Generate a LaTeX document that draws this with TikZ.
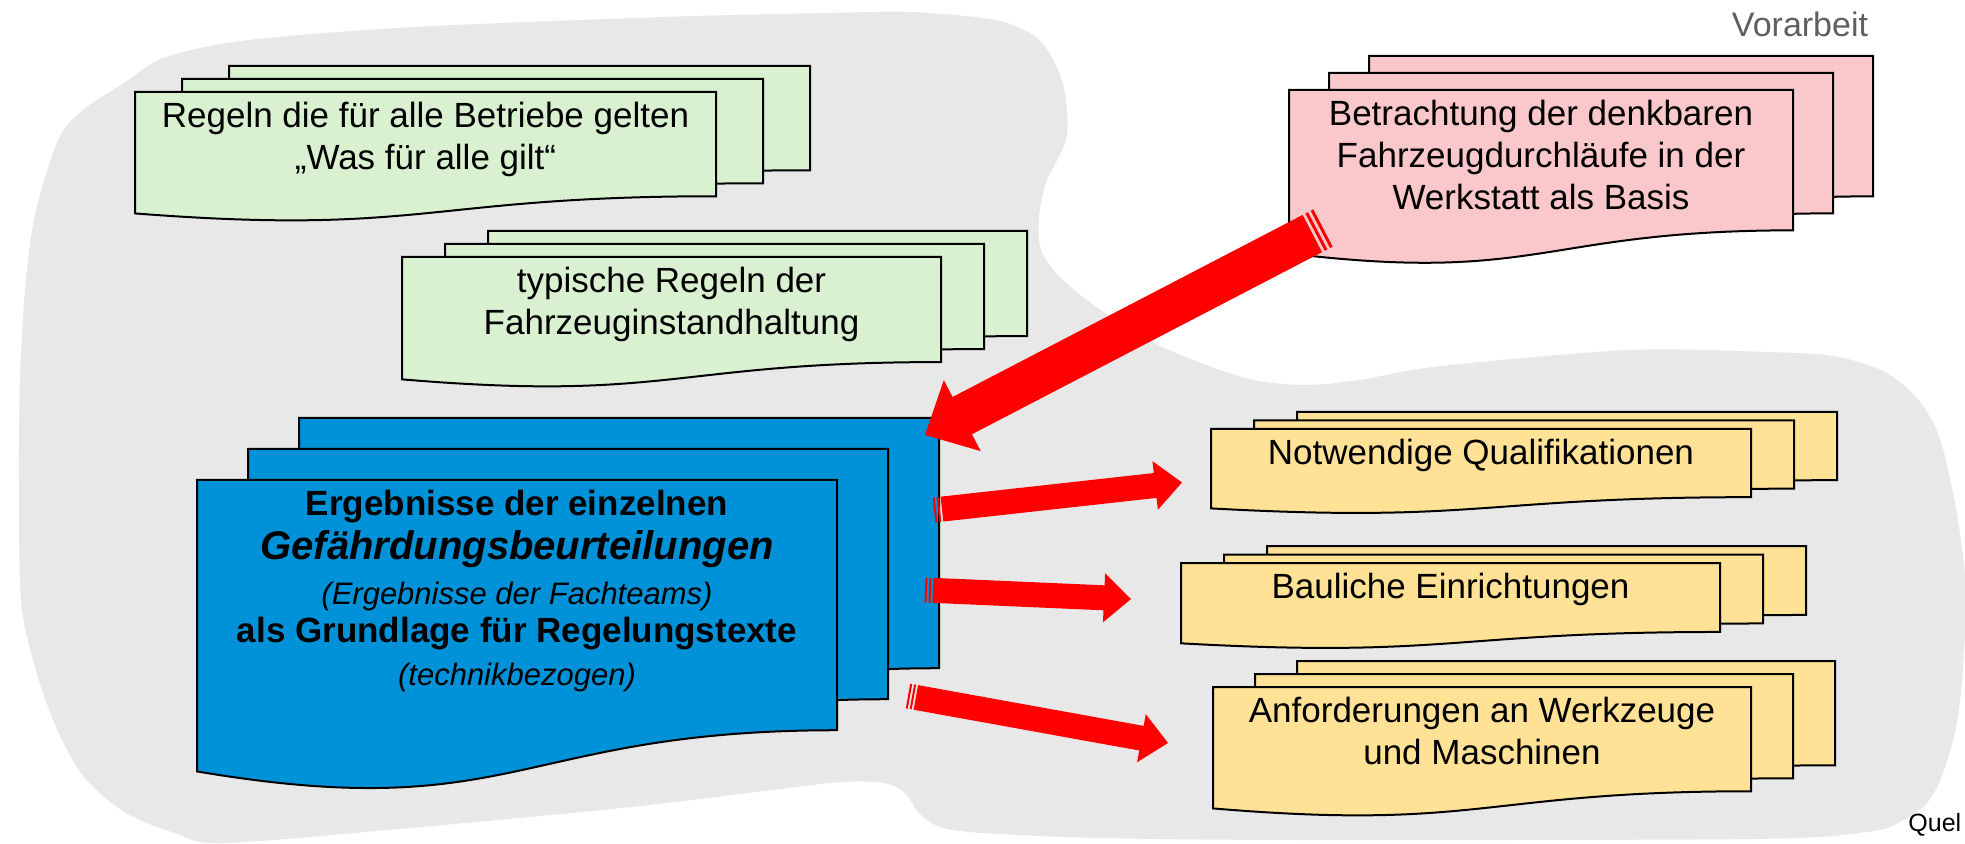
\documentclass[tikz,border=0pt]{standalone}
\usepackage{fontspec}
\setmainfont{Liberation Sans}
\usetikzlibrary{positioning,calc}

\definecolor{blobgray}{RGB}{232,232,232}
\definecolor{sheetgreen}{RGB}{217,241,208}
\definecolor{sheetpink}{RGB}{250,200,202}
\definecolor{sheetblue}{RGB}{0,146,216}
\definecolor{sheetyellow}{RGB}{255,226,150}
\definecolor{labelgray}{RGB}{95,95,95}

% one sheet: top left x, y, width, height, colour
\newcommand{\sheet}[5]{%
	\filldraw[sheetline, fill=#5] (#1,#2) -- ++(#3,0) -- ++(0,{0.802*#4})
		.. controls ({#1+0.5*#3},{#2+0.802*#4}) and ({#1+0.5*#3},{#2+1.1075*#4}) .. (#1,{#2+0.934*#4}) -- cycle;
}
% three sheets: name, x, y, width, height, dx, dy, colour
\newcommand{\stack}[8]{%
	\sheet{#2+2*#6}{#3-2*#7}{#4}{#5}{#8}
	\sheet{#2+#6}{#3-#7}{#4}{#5}{#8}
	\sheet{#2}{#3}{#4}{#5}{#8}
	\node[frame, minimum width=#4*0.5pt, minimum height=#5*0.5pt] (#1) at ({#2+0.5*#4},{#3+0.5*#5}) {};
}
% striped block arrow: from, to, shaft, head width, head length, stripe
\newcommand{\fatarrow}[6]{%
	\coordinate (neck) at ($(#2)!#5!(#1)$);
	\coordinate (body) at ($(#1)!4*#6!(#2)$);
	\fill[red] ($(body)!0.5*#3!90:(#2)$) -- ($(neck)!0.5*#3!90:(#2)$) -- ($(neck)!0.5*#4!90:(#2)$) -- (#2)
		-- ($(neck)!0.5*#4!-90:(#2)$) -- ($(neck)!0.5*#3!-90:(#2)$) -- ($(body)!0.5*#3!-90:(#2)$) -- cycle;
	\foreach \s in {0,2}{
		\coordinate (sa) at ($(#1)!\s*#6!(#2)$);
		\coordinate (sb) at ($(#1)!\s*#6+#6!(#2)$);
		\fill[red] ($(sa)!0.5*#3!90:(#2)$) -- ($(sb)!0.5*#3!90:(#2)$) -- ($(sb)!0.5*#3!-90:(#2)$) -- ($(sa)!0.5*#3!-90:(#2)$) -- cycle;
	}
}

\begin{document}
\begin{tikzpicture}[x=0.5pt, y=-0.5pt,
		sheetline/.style={draw=black, line width=1pt},
		frame/.style={inner sep=0pt, outer sep=0pt},
		txt/.style={align=center, inner sep=0pt, font=\fontsize{17.5}{21}\selectfont}]
		\fill[white] (0,0) rectangle (1965,844);
		\useasboundingbox (0,0) rectangle (1965,844);

		% Background
		\fill[blobgray] plot[smooth cycle, tension=0.5] coordinates {
			(58,140) (83,110) (124,83) (166,57) (249,40) (415,27) (663,17) (829,13) (912,12)
			(995,20) (1036,37) (1057,67) (1066,100) (1066,140) (1046,183) (1039,217) (1041,250)
			(1060,277) (1096,307) (1148,340) (1201,363) (1253,380) (1306,385) (1359,380) (1441,366)
			(1629,350) (1767,352) (1833,356) (1883,371) (1917,398) (1940,439) (1957,515) (1966,591)
			(1963,667) (1957,723) (1943,773) (1927,803) (1900,822) (1867,832) (1754,839) (1300,840)
			(1100,838) (982,833) (940,827) (919,813) (905,793) (884,783) (842,782) (772,790)
			(631,807) (421,827) (224,843) (175,833) (126,813) (84,777) (56,727) (35,667) (21,600)
			(19,480) (20,380) (25,290) (35,215)};
		\node[txt, text=labelgray, font=\fontsize{17}{20}\selectfont] (vorarbeit) at (1800,24) {Vorarbeit};

		% Define nodes
		\stack{rules}{135}{92}{581}{130}{47}{13}{sheetgreen}
		\stack{typical}{402}{257}{539}{131}{43}{13}{sheetgreen}
		\stack{runs}{1289}{90}{504}{175}{40}{17}{sheetpink}
		\stack{results}{197}{480}{640}{312}{51}{31}{sheetblue}
		\stack{quali}{1211}{429}{540}{85}{43}{8.5}{sheetyellow}
		\stack{build}{1181}{563}{539}{86}{43}{8.5}{sheetyellow}
		\stack{tools}{1213}{687}{538}{130}{42}{13}{sheetyellow}

		\node[txt, below=5pt of rules.north] (rulestxt) {Regeln die für alle Betriebe gelten\\„Was für alle gilt“};
		\node[txt, below=5pt of typical.north] (typicaltxt) {typische Regeln der\\Fahrzeuginstandhaltung};
		\node[txt, below=5pt of runs.north] (runstxt) {Betrachtung der denkbaren\\Fahrzeugdurchläufe in der\\Werkstatt als Basis};
		\node[txt, below=5pt of results.north] (resultstxt) {\textbf{Ergebnisse der einzelnen}\\[1pt]
			{\fontsize{20}{23}\selectfont\bfseries\itshape Gefährdungsbeurteilungen}\\[1.5pt]
			{\fontsize{15.5}{19}\selectfont\itshape (Ergebnisse der Fachteams)}\\[-2pt]
			\textbf{als Grundlage für Regelungstexte}\\[0.5pt]
			{\fontsize{15.5}{19}\selectfont\itshape (technikbezogen)}};
		\node[txt, below=5pt of quali.north] (qualitxt) {Notwendige Qualifikationen};
		\node[txt, below=5pt of build.north] (buildtxt) {Bauliche Einrichtungen};
		\node[txt, below=5pt of tools.north] (toolstxt) {Anforderungen an Werkzeuge\\und Maschinen};
		\node[inner sep=0pt, anchor=base west, font=\fontsize{12.5}{15}\selectfont] (quelle) at (1908,831) {Quel};

		% Connect the nodes
		\coordinate (aOut) at ([shift={(34,138)}]runs.north west);
		\coordinate (aIn) at ([shift={(88,-45)}]results.north east);
		\coordinate (bOut) at ([shift={(97,-126)}]results.east);
		\coordinate (bIn) at ([shift={(-29,11)}]quali.west);
		\coordinate (cOut) at ([shift={(88,-46)}]results.east);
		\coordinate (cIn) at ([shift={(-50,-7)}]build.west);
		\coordinate (dOut) at ([shift={(71,60)}]results.east);
		\coordinate (dIn) at ([shift={(-45,-9)}]tools.west);
		\fatarrow{aOut}{aIn}{21pt}{40pt}{21pt}{1.5pt}
		\fatarrow{bOut}{bIn}{12.5pt}{24.5pt}{13.5pt}{1pt}
		\fatarrow{cOut}{cIn}{12.5pt}{24.5pt}{13.5pt}{1pt}
		\fatarrow{dOut}{dIn}{12.5pt}{24.5pt}{13.5pt}{1pt}

	\end{tikzpicture}
\end{document}
